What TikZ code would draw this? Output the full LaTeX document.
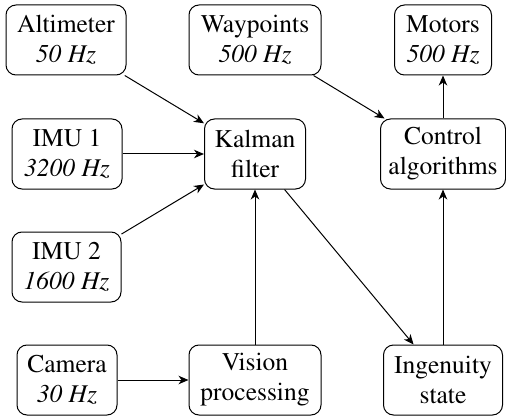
\documentclass[tikz,border=0pt]{standalone}
\usepackage[T1]{fontenc}
\usepackage{mathptmx}
\usetikzlibrary{arrows.meta}
\begin{document}
\begin{tikzpicture}[x=1pt,y=-1pt,
  box/.style={draw, line width=1pt, rounded corners=10pt, align=center,
    inner sep=0pt, minimum height=70pt,
    font=\rmfamily\fontsize{25.5}{30}\selectfont},
  conn/.style={line width=1pt, -{Stealth[length=10pt,width=8.5pt,inset=3pt]}}]
\useasboundingbox (0,0) rectangle (506,417);
\node[box, minimum width=120pt] (alt) at (66,40) {Altimeter\\\textit{50 Hz}};
\node[box, minimum width=132pt] (way) at (255,40) {Waypoints\\\textit{500 Hz}};
\node[box, minimum width=97pt] (mot) at (443,40) {Motors\\\textit{500 Hz}};
\node[box, minimum width=110pt] (imu1) at (67,154) {IMU 1\\\textit{3200 Hz}};
\node[box, minimum width=101pt] (kal) at (255,154) {Kalman\\filter};
\node[box, minimum width=125pt] (ctrl) at (443,154) {Control\\algorithms};
\node[box, minimum width=109pt] (imu2) at (66.5,267) {IMU 2\\\textit{1600 Hz}};
\node[box, minimum width=100pt] (cam) at (67,380) {Camera\\\textit{30 Hz}};
\node[box, minimum width=132pt] (vis) at (255,380) {Vision\\processing};
\node[box, minimum width=119pt] (ing) at (443,380) {Ingenuity\\state};
\draw[conn] (alt) -- (kal);
\draw[conn] (imu1) -- (kal);
\draw[conn] (imu2) -- (kal);
\draw[conn] (cam) -- (vis);
\draw[conn] (vis) -- (kal);
\draw[conn] (kal) -- (ing);
\draw[conn] (ing) -- (ctrl);
\draw[conn] (way) -- (ctrl);
\draw[conn] (ctrl) -- (mot);
\end{tikzpicture}
\end{document}
